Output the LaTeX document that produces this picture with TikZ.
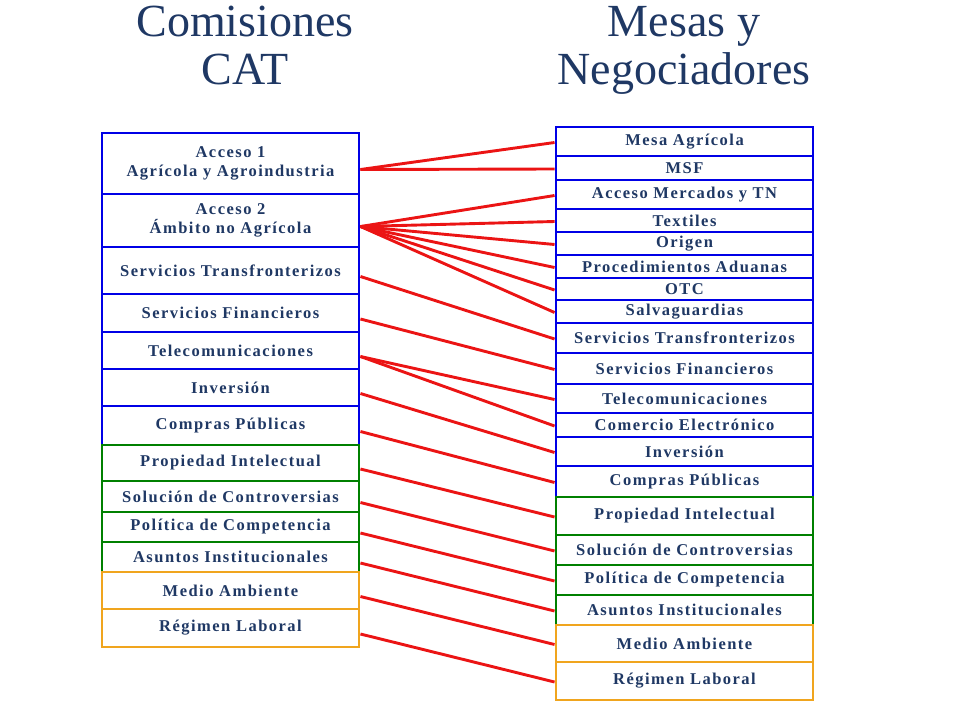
\documentclass[tikz,border=0pt]{standalone}
\usepackage{fontspec}
\setmainfont{Liberation Serif}
\definecolor{tblue}{RGB}{31,56,100}
\definecolor{bblue}{RGB}{0,0,230}
\definecolor{bgreen}{RGB}{0,128,0}
\definecolor{borange}{RGB}{240,165,30}
\definecolor{lred}{RGB}{235,20,20}
\tikzset{
  bx/.style={draw=#1, line width=2.9pt, fill=white, minimum width=257pt, inner sep=0pt,
    text=tblue, font=\fontsize{16.5}{19}\selectfont\bfseries\addfontfeatures{LetterSpace=9}, align=center},
  ttl/.style={text=tblue, font=\fontsize{46}{48}\selectfont, align=center},
  cn/.style={draw=lred, line width=2.9pt}
}
\newcommand{\bxl}[5]{\node[bx=#4, minimum height=#3-#2] (#1) at (230.5,{(#2+#3)/2}) {#5};}
\newcommand{\bxr}[5]{\node[bx=#4, minimum height=#3-#2] (#1) at (684.5,{(#2+#3)/2}) {#5};}
\begin{document}
\begin{tikzpicture}[x=1pt,y=-1pt]
\useasboundingbox (0,0) rectangle (960,720);
\node[ttl] (t1) at (245,51) {Comisiones\strut\\CAT\strut};
\node[ttl] (t2) at (684,51) {Mesas y\strut\\Negociadores\strut};
\bxl{l1}{133}{194}{bblue}{Acceso 1\\Agrícola y Agroindustria}
\bxl{l2}{194}{247}{bblue}{Acceso 2\\Ámbito no Agrícola}
\bxl{l3}{247}{294}{bblue}{Servicios Transfronterizos}
\bxl{l4}{294}{332}{bblue}{Servicios Financieros}
\bxl{l5}{332}{369}{bblue}{Telecomunicaciones}
\bxl{l6}{369}{406}{bblue}{Inversión}
\bxl{l7}{406}{445}{bblue}{Compras Públicas}
\bxl{l8}{445}{481}{bgreen}{Propiedad Intelectual}
\bxl{l9}{481}{512}{bgreen}{Solución de Controversias}
\bxl{l10}{512}{542}{bgreen}{Política de Competencia}
\bxl{l11}{542}{572}{bgreen}{Asuntos Institucionales}
\bxl{l12}{572}{609}{borange}{Medio Ambiente}
\bxl{l13}{609}{647}{borange}{Régimen Laboral}
\bxr{r1}{127}{156}{bblue}{Mesa Agrícola}
\bxr{r2}{156}{180}{bblue}{MSF}
\bxr{r3}{180}{209}{bblue}{Acceso Mercados y TN}
\bxr{r4}{209}{232}{bblue}{Textiles}
\bxr{r5}{232}{255}{bblue}{Origen}
\bxr{r6}{255}{278}{bblue}{Procedimientos Aduanas}
\bxr{r7}{278}{300}{bblue}{OTC}
\bxr{r8}{300}{323}{bblue}{Salvaguardias}
\bxr{r9}{323}{353}{bblue}{Servicios Transfronterizos}
\bxr{r10}{353}{384}{bblue}{Servicios Financieros}
\bxr{r11}{384}{413}{bblue}{Telecomunicaciones}
\bxr{r12}{413}{437}{bblue}{Comercio Electrónico}
\bxr{r13}{437}{466}{bblue}{Inversión}
\bxr{r14}{466}{497}{bblue}{Compras Públicas}
\bxr{r15}{497}{535}{bgreen}{Propiedad Intelectual}
\bxr{r16}{535}{565}{bgreen}{Solución de Controversias}
\bxr{r17}{565}{595}{bgreen}{Política de Competencia}
\bxr{r18}{595}{625}{bgreen}{Asuntos Institucionales}
\bxr{r19}{625}{662}{borange}{Medio Ambiente}
\bxr{r20}{662}{700}{borange}{Régimen Laboral}
\foreach \a/\b in {l1/r1,l1/r2,l2/r3,l2/r4,l2/r5,l2/r6,l2/r7,l2/r8,l3/r9,l4/r10,l5/r11,l5/r12,l6/r13,l7/r14,l8/r15,l9/r16,l10/r17,l11/r18,l12/r19,l13/r20}
  \draw[cn] ([yshift=-6pt]\a.east) -- ([yshift=-1pt]\b.west);
\end{tikzpicture}
\end{document}
